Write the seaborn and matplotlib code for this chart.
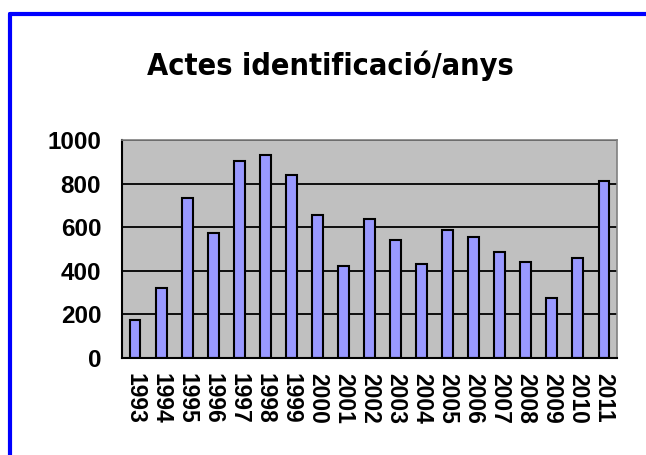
import matplotlib
matplotlib.use('Agg')
import matplotlib.pyplot as plt
from matplotlib.lines import Line2D
import seaborn as sns
import numpy as np

years = ['1993', '1994', '1995', '1996', '1997', '1998', '1999', '2000', '2001', '2002',
         '2003', '2004', '2005', '2006', '2007', '2008', '2009', '2010', '2011']
actes = [174, 321, 732, 575, 905, 933, 841, 657, 420, 639,
         540, 430, 586, 557, 485, 439, 274, 457, 810]
y_ticks = [0, 200, 400, 600, 800, 1000]

sns.set_style('white')
plt.rcParams['font.family'] = ['Liberation Sans', 'DejaVu Sans']
plt.rcParams['text.color'] = 'black'
plt.rcParams['xtick.color'] = 'black'
plt.rcParams['ytick.color'] = 'black'

fig = plt.figure(figsize=(6.46, 4.55), dpi=100)
ax = fig.add_axes([122/646, 1 - 358/455, 495/646, 218/455])

sns.barplot(x=years, y=actes, color='#9999FF', saturation=1, edgecolor='black',
            linewidth=1.5, width=0.42, ax=ax)

ax.set_facecolor('#C0C0C0')
ax.set_ylim(0, 1000)
ax.set_xlim(-0.5, len(years) - 0.5)
ax.set_yticks(y_ticks)
ax.set_yticklabels([str(t) for t in y_ticks], fontsize=17.5, fontweight='bold')
ax.set_xticks(range(len(years)))
ax.set_xticklabels(years, rotation=270, fontsize=16.5, fontweight='bold')
ax.set_xticks(np.arange(-0.5, len(years)), minor=True)
ax.tick_params(axis='x', which='major', length=0, pad=11)
ax.tick_params(axis='x', which='minor', length=5, width=1.3, direction='out')
ax.tick_params(axis='y', length=6, width=1.3, direction='out', pad=9)
ax.set_xlabel('')
ax.set_ylabel('')

ax.grid(axis='y', color='black', linewidth=1.3)
ax.set_axisbelow(True)
for side in ['left', 'bottom']:
    ax.spines[side].set_color('black')
    ax.spines[side].set_linewidth(1.5)
for side in ['top', 'right']:
    ax.spines[side].set_color('#808080')
    ax.spines[side].set_linewidth(1.2)

fig.text(330/646, 1 - 75/455, 'Actes identificació/anys', ha='center', va='baseline',
         fontsize=22, fontweight='heavy', fontstretch='condensed', family='DejaVu Sans')

# blue frame round the chart (only left and top visible)
fig.add_artist(Line2D([10/646, 10/646], [0, 1 - 14/455], color='#0000FF', linewidth=3,
                      transform=fig.transFigure))
fig.add_artist(Line2D([10/646, 1], [1 - 14/455, 1 - 14/455], color='#0000FF', linewidth=3,
                      transform=fig.transFigure))

fig.savefig('out.png', dpi=100)
